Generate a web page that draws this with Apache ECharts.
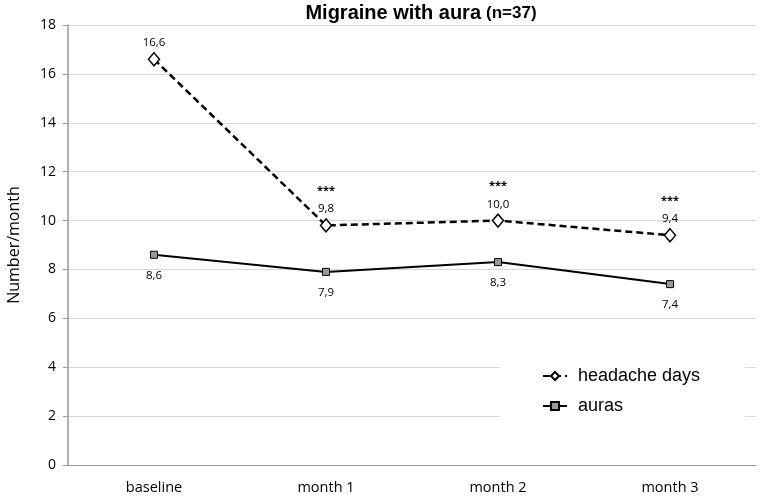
<!DOCTYPE html>
<html><head><meta charset="utf-8">
<script src="https://cdn.jsdelivr.net/npm/echarts@6/dist/echarts.min.js"></script>
<style>html,body{margin:0;padding:0;background:#fff}#c{width:765px;height:501px}</style>
</head><body><div id="c"></div>
<script>
const categories = ['baseline', 'month 1', 'month 2', 'month 3'];
const headacheDays = [16.6, 9.8, 10.0, 9.4];
const auras = [8.6, 7.9, 8.3, 7.4];
const significance = ['', '***', '***', '***'];
const yTicks = [0, 2, 4, 6, 8, 10, 12, 14, 16, 18];

const fmt = v => v.toFixed(1).replace('.', ',');
const chart = echarts.init(document.getElementById('c'));
chart.setOption({
  animation: false,
  backgroundColor: '#fff',
  title: {
    text: '{b|Migraine with aura} {n|(n=37)}',
    left: 421, top: 3, padding: 0, textAlign: 'center',
    textStyle: { rich: {
      b: { fontFamily: 'Liberation Sans', fontWeight: 'bold', fontSize: 20, color: '#000' },
      n: { fontFamily: 'Liberation Sans', fontSize: 17, color: '#000' }
    } }
  },
  legend: {
    orient: 'vertical', left: 500, top: 359,
    itemWidth: 24, itemHeight: 10, itemGap: 12,
    backgroundColor: '#fff', padding: [8, 45, 8, 42],
    textStyle: { fontFamily: 'Liberation Sans', fontSize: 18, color: '#000', padding: [0, 0, 0, 6] },
    data: ['headache days', 'auras']
  },
  grid: { left: 68, right: 9, top: 25, bottom: 36, containLabel: false, outerBoundsMode: 'none' },
  xAxis: {
    type: 'category', data: categories, boundaryGap: true,
    axisLine: { lineStyle: { color: '#999', width: 1 } },
    axisTick: { length: 6, lineStyle: { color: '#999' } },
    axisLabel: { fontFamily: 'Open Sans', fontSize: 14.5, color: '#000', margin: 15 }
  },
  yAxis: {
    type: 'value', min: 0, max: 18, interval: 2,
    name: 'Number/month', nameLocation: 'middle', nameGap: 46, nameRotate: 90,
    nameTextStyle: { fontFamily: 'Open Sans', fontSize: 16, color: '#000' },
    axisLine: { show: true, lineStyle: { color: '#999', width: 1.5 } },
    axisTick: { show: true, length: 5, lineStyle: { color: '#999' } },
    axisLabel: { fontFamily: 'Open Sans', fontSize: 14, color: '#000', margin: 12,
      formatter: v => yTicks.includes(v) ? String(v) : '' },
    splitLine: { lineStyle: { color: '#d9d9d9', width: 1 } }
  },
  series: [
    {
      name: 'headache days', type: 'line',
      data: headacheDays,
      symbol: 'diamond', symbolSize: [11, 13],
      lineStyle: { color: '#000', width: 2.5, type: [7, 4] },
      itemStyle: { color: '#fff', borderColor: '#000', borderWidth: 1.5 },
      label: {
        show: true, position: 'top', distance: 2,
        formatter: p => (significance[p.dataIndex] ? '{s|' + significance[p.dataIndex] + '}\n' : '') + '{v|' + fmt(p.value) + '}',
        rich: {
          s: { fontFamily: 'Open Sans', fontSize: 11, fontWeight: 'bold', color: '#000', lineHeight: 22 },
          v: { fontFamily: 'Open Sans', fontSize: 11.5, color: '#000', lineHeight: 14 }
        }
      }
    },
    {
      name: 'auras', type: 'line',
      data: auras,
      symbol: 'rect', symbolSize: 7,
      lineStyle: { color: '#000', width: 2 },
      itemStyle: { color: '#999', borderColor: '#000', borderWidth: 1 },
      label: {
        show: true, position: 'bottom', distance: 11,
        formatter: p => fmt(p.value),
        fontFamily: 'Open Sans', fontSize: 11.5, color: '#000'
      }
    }
  ]
});
</script></body></html>
